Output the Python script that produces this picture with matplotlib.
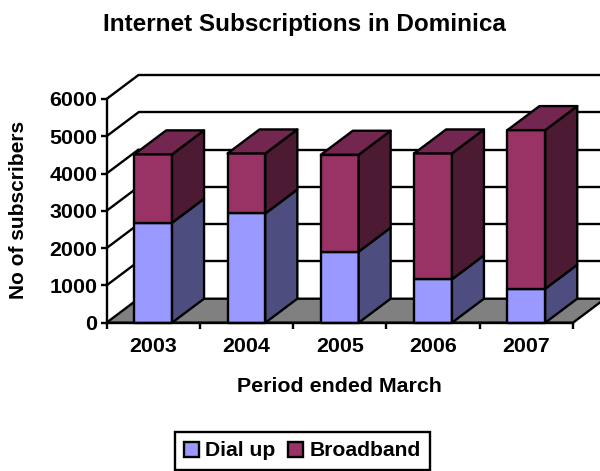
#!/usr/bin/env python3
"""Internet subscriptions in Dominica: stacked bars with a fake 3-D box."""

import matplotlib
matplotlib.use("Agg")
import matplotlib.pyplot as plt
from matplotlib.patches import Patch, Polygon

years = ["2003", "2004", "2005", "2006", "2007"]
dial_up = [2680, 2930, 1905, 1163, 912]
broadband = [1835, 1610, 2600, 3377, 4254]
y_ticks = [0, 1000, 2000, 3000, 4000, 5000, 6000]

W, H = 600, 471
DIAL, DIAL_SIDE = "#9999FF", "#4D4D80"
BROAD, BROAD_SIDE, BROAD_TOP = "#993366", "#4D1A33", "#732650"
LW = 1.7

plt.rcParams["font.family"] = "Liberation Sans"
plt.rcParams["font.weight"] = "bold"
plt.rcParams["font.size"] = 15.4

fig = plt.figure(figsize=(W / 100, H / 100), dpi=100)
left, right, top, bottom = 106.5, 573, 99, 322.7
ax = fig.add_axes([left / W, 1 - bottom / H, (right - left) / W, (bottom - top) / H])
ax.set_xlim(0, len(years))
ax.set_ylim(0, y_ticks[-1])

# depth of the box, in data units (32 px right, 24 px up)
dx = 32 / ((right - left) / len(years))
dy = 24 / ((bottom - top) / y_ticks[-1])
bar_w = 0.405


def poly(points, color, z):
    ax.add_patch(Polygon(points, closed=True, facecolor=color, edgecolor="black",
                         linewidth=LW, joinstyle="round", clip_on=False, zorder=z))


def line(xs, ys, z=1):
    ax.plot(xs, ys, color="black", lw=LW, clip_on=False, zorder=z,
            solid_capstyle="round")


# floor, back wall gridlines, left wall diagonals
n = len(years)
poly([(0, 0), (n, 0), (n + dx, dy), (dx, dy)], "#808080", 1)
for t in y_ticks:
    if t > 0:
        line([dx, n + dx], [t + dy, t + dy])
        line([0, dx], [t, t + dy])

z = 2.0
for i, (d, b) in enumerate(zip(dial_up, broadband)):
    x0 = i + 0.5 - bar_w / 2
    x1 = x0 + bar_w
    total = d + b
    poly([(x0, 0), (x1, 0), (x1, d), (x0, d)], DIAL, z)
    poly([(x1, 0), (x1 + dx, dy), (x1 + dx, d + dy), (x1, d)], DIAL_SIDE, z)
    poly([(x0, d), (x1, d), (x1, total), (x0, total)], BROAD, z)
    poly([(x1, d), (x1 + dx, d + dy), (x1 + dx, total + dy), (x1, total)], BROAD_SIDE, z)
    poly([(x0, total), (x1, total), (x1 + dx, total + dy), (x0 + dx, total + dy)], BROAD_TOP, z)
    z += 0.01

for s in ("top", "right"):
    ax.spines[s].set_visible(False)
for s in ("left", "bottom"):
    ax.spines[s].set_linewidth(LW)
    ax.spines[s].set_zorder(5)

ax.set_yticks(y_ticks)
ax.set_xticks(range(n + 1))
ax.set_xticklabels([])
ax.set_xticks([i + 0.5 for i in range(n)], labels=years, minor=True)
ax.tick_params(axis="both", which="major", length=4.5, width=LW, pad=2)
ax.tick_params(axis="x", which="minor", length=0, pad=10.5)

fig.text(304.5 / W, 1 - 24 / H, "Internet Subscriptions in Dominica",
         ha="center", va="center", fontsize=17.5)
fig.text(19 / W, 1 - 210 / H, "No of subscribers", rotation=90,
         ha="center", va="center", fontsize=15)
fig.text(339 / W, 1 - 387 / H, "Period ended March", ha="center", va="center",
         fontsize=15.4)

handles = [Patch(facecolor=DIAL, edgecolor="black", linewidth=LW, label="Dial up"),
           Patch(facecolor=BROAD, edgecolor="black", linewidth=LW, label="Broadband")]
leg = fig.legend(handles=handles, loc="center", bbox_to_anchor=(302.5 / W, 1 - 451 / H),
                 ncol=2, frameon=True, fancybox=False, edgecolor="black",
                 framealpha=1, handlelength=0.7, handleheight=0.7, handletextpad=0.3,
                 columnspacing=0.6, borderpad=0.45, borderaxespad=0, fontsize=15.2)
leg.get_frame().set_linewidth(LW)

fig.savefig("out.png", dpi=100)
